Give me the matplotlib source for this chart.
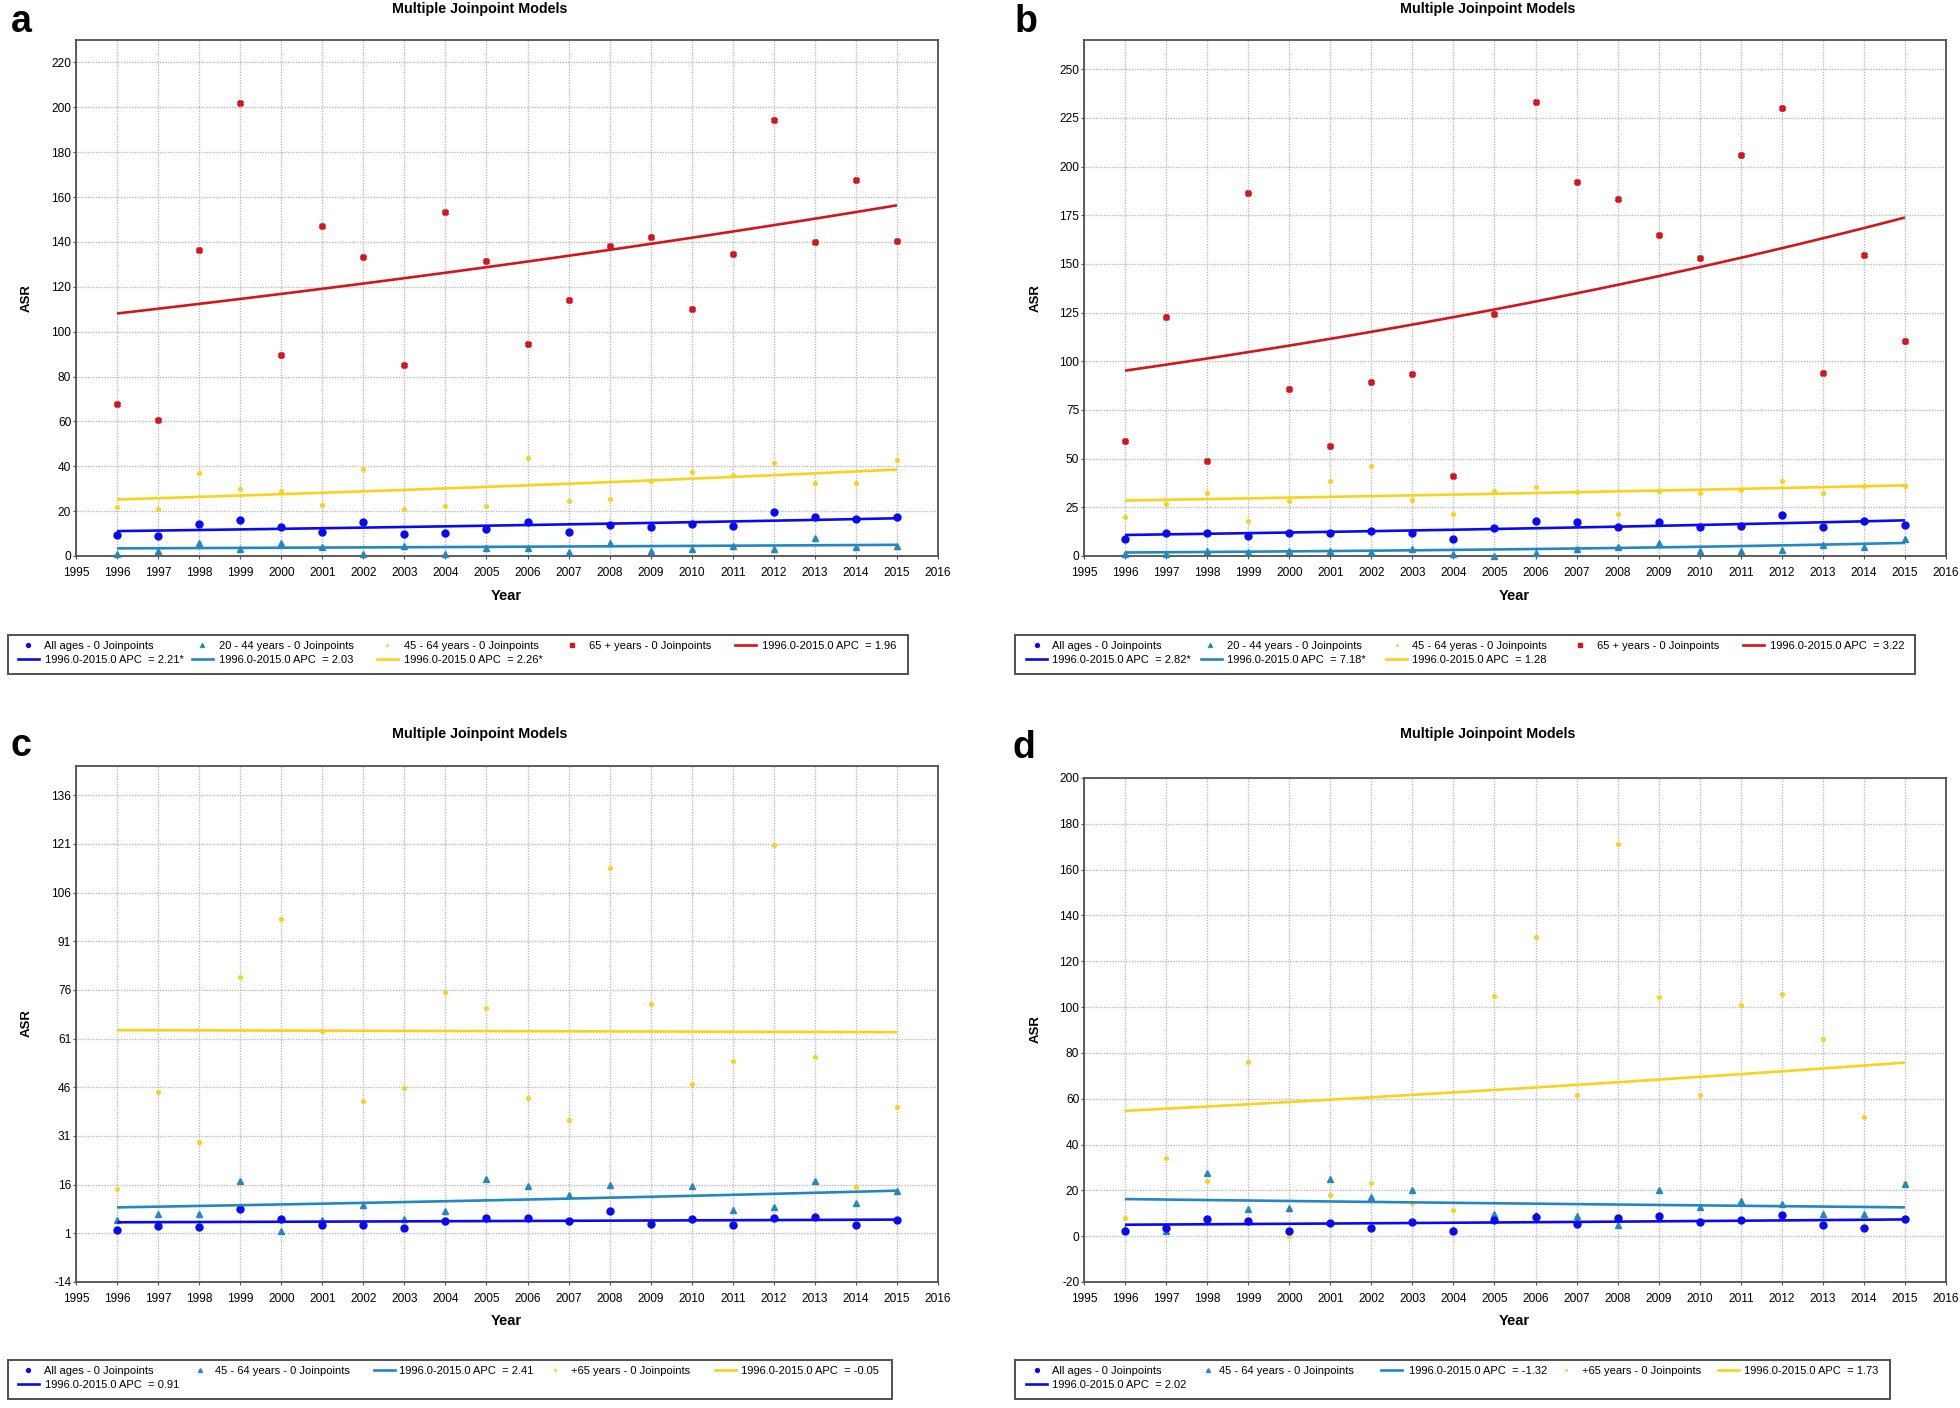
import matplotlib
matplotlib.use('Agg')
import matplotlib.pyplot as plt
from matplotlib.lines import Line2D
from matplotlib.patches import Rectangle
from matplotlib import font_manager
import numpy as np

# ---------------- DATA ----------------
years = list(range(1996, 2016))

# Panel a
a_all   = [9.5, 8.7, 14.3, 16.2, 12.8, 10.7, 15.3, 10.0, 10.4, 12.1, 15.0, 10.7, 14.0, 13.0, 14.3, 13.3, 19.8, 17.2, 16.4, 17.2]
a_20_44 = [1.0, 2.2, 6.0, 3.2, 5.6, 3.9, 1.0, 4.6, 1.0, 3.6, 3.6, 1.7, 5.6, 2.4, 3.2, 4.4, 3.2, 8.0, 3.9, 4.3]
a_45_64 = [21.7, 20.8, 37.0, 29.7, 28.8, 22.7, 38.7, 21.1, 22.2, 22.3, 43.5, 24.6, 25.2, 33.6, 37.5, 36.3, 41.6, 32.6, 32.6, 42.6]
a_65    = [67.7, 60.4, 136.4, 201.7, 89.4, 147.0, 133.2, 85.3, 153.5, 131.5, 94.5, 114.1, 138.3, 142.4, 110.0, 134.5, 194.2, 139.8, 167.5, 140.5]
a_fit_start = [11.1, 3.4, 25.2, 108.1]      # fitted value in 1996: all, 20-44, 45-64, 65+
a_apc       = [2.21, 2.03, 2.26, 1.96]

# Panel b
b_all   = [8.9, 11.6, 12.0, 10.4, 11.6, 12.0, 12.6, 12.0, 8.7, 14.4, 17.9, 17.5, 14.9, 17.5, 15.1, 15.3, 21.0, 15.1, 17.9, 15.7]
b_20_44 = [1.2, 1.2, 2.8, 2.0, 2.4, 2.8, 2.0, 3.5, 1.2, 0.2, 1.6, 3.5, 4.5, 6.7, 2.8, 2.8, 3.1, 5.9, 4.5, 8.5]
b_45_64 = [19.9, 26.6, 32.5, 18.1, 28.5, 38.6, 46.0, 28.9, 21.4, 33.4, 35.6, 32.7, 21.4, 33.4, 32.5, 34.0, 38.7, 32.5, 36.0, 35.8]
b_65    = [59.0, 122.9, 48.6, 186.5, 85.8, 56.3, 89.5, 93.6, 40.9, 124.5, 233.0, 192.2, 183.3, 165.0, 153.2, 205.7, 230.1, 94.2, 154.4, 110.5]
b_fit_start = [10.8, 1.8, 28.5, 95.2]
b_apc       = [2.82, 7.18, 1.28, 3.22]

# Panel c
c_all   = [1.9, 3.3, 3.0, 8.4, 5.3, 3.6, 3.6, 2.7, 4.8, 5.8, 5.7, 4.8, 7.8, 3.8, 5.3, 3.6, 5.8, 5.9, 3.7, 5.0]
c_45_64 = [5.0, 7.1, 7.0, 17.2, 1.6, 5.1, 9.8, 5.4, 7.8, 17.6, 15.5, 12.8, 16.0, 4.5, 15.6, 8.1, 9.1, 17.2, 10.2, 13.9]
c_65    = [14.8, 44.4, 29.2, 79.9, 97.8, 63.2, 41.7, 45.9, 75.5, 70.3, 42.8, 35.9, 113.6, 71.7, 46.9, 54.1, 120.8, 55.3, 15.3, 40.0]
c_fit_start = [4.4, 9.0, 63.6]              # all, 45-64, +65
c_apc       = [0.91, 2.41, -0.05]

# Panel d
d_all   = [2.2, 3.4, 7.4, 6.6, 2.2, 5.6, 3.4, 6.2, 2.2, 7.0, 8.2, 5.4, 8.0, 9.0, 6.2, 7.0, 9.2, 5.0, 3.6, 7.4]
d_45_64 = [3.2, 2.4, 27.7, 12.0, 12.4, 25.1, 17.2, 20.1, 2.6, 9.6, 9.4, 8.8, 5.0, 20.1, 12.8, 15.4, 14.0, 9.6, 9.6, 22.7]
d_65    = [7.8, 34.1, 23.9, 76.2, 0.0, 18.0, 23.1, 14.4, 11.6, 104.7, 130.8, 61.6, 171.1, 104.3, 61.8, 101.1, 105.7, 86.0, 51.9, 23.3]
d_fit_start = [5.0, 16.2, 54.7]
d_apc       = [2.02, -1.32, 1.73]

# Axis ticks
a_yticks = list(range(0, 221, 20))
b_yticks = list(range(0, 251, 25))
c_yticks = list(range(-14, 137, 15))
d_yticks = list(range(-20, 201, 20))
xticks = list(range(1995, 2017))

# Legend texts
a_legend = ["All ages - 0 Joinpoints", "20 - 44 years - 0 Joinpoints", "45 - 64 years - 0 Joinpoints",
            "65 + years - 0 Joinpoints", "1996.0-2015.0 APC  = 1.96",
            "1996.0-2015.0 APC  = 2.21*", "1996.0-2015.0 APC  = 2.03", "1996.0-2015.0 APC  = 2.26*"]
b_legend = ["All ages - 0 Joinpoints", "20 - 44 years - 0 Joinpoints", "45 - 64 yeras - 0 Joinpoints",
            "65 + years - 0 Joinpoints", "1996.0-2015.0 APC  = 3.22",
            "1996.0-2015.0 APC  = 2.82*", "1996.0-2015.0 APC  = 7.18*", "1996.0-2015.0 APC  = 1.28"]
c_legend = ["All ages - 0 Joinpoints", "45 - 64 years - 0 Joinpoints", "1996.0-2015.0 APC  = 2.41",
            "+65 years - 0 Joinpoints", "1996.0-2015.0 APC  = -0.05", "1996.0-2015.0 APC  = 0.91"]
d_legend = ["All ages - 0 Joinpoints", "45 - 64 years - 0 Joinpoints", "1996.0-2015.0 APC  = -1.32",
            "+65 years - 0 Joinpoints", "1996.0-2015.0 APC  = 1.73", "1996.0-2015.0 APC  = 2.02"]

# ---------------- STYLE ----------------
def has_font(name):
    try:
        font_manager.findfont(font_manager.FontProperties(family=name), fallback_to_default=False)
        return True
    except Exception:
        return False

NARROW = 'Liberation Sans Narrow' if has_font('Liberation Sans Narrow') else 'Liberation Sans'
SANS = 'Liberation Sans'

C_BLUE = '#0A0AF2'
C_TEAL = '#2388BF'
C_YEL = '#F8D31A'
C_RED = '#D2161C'
FRAME = '#505050'

W, H = 1960, 1408
fig = plt.figure(figsize=(W / 100, H / 100), dpi=100)
fig.patch.set_facecolor('white')

STY = {
    'all':  dict(marker='o', ms=5.0, color=C_BLUE),
    'teal': dict(marker='^', ms=4.5, color=C_TEAL),
    'yel':  dict(marker='o', ms=2.6, color=C_YEL),
    'red':  dict(marker='X', ms=4.0, color=C_RED),
}


def add_axes_px(l, r, t, b):
    return fig.add_axes([l / W, 1 - b / H, (r - l) / W, (b - t) / H])


def fx(x):
    return x / W


def fy(y):
    return 1 - y / H


def draw_panel(box, ylim, yticks, series, letter, title_xy, letter_xy, ylab_xy, xlab_xy):
    ax = add_axes_px(*box)
    ax.set_xlim(1995, 2016)
    ax.set_ylim(*ylim)
    ax.set_xticks(xticks)
    ax.set_xticklabels([str(v) for v in xticks], fontsize=8.6, family=NARROW)
    ax.set_yticks(yticks)
    ax.set_yticklabels([str(v) for v in yticks], fontsize=8.6, family=NARROW)
    ax.tick_params(axis='x', length=2, pad=6, color=FRAME)
    ax.tick_params(axis='y', length=2, pad=1.5, color=FRAME)
    ax.grid(True, color='#BBBBBB', linestyle=(0, (1, 1)), linewidth=1.0)
    ax.set_axisbelow(True)
    for s in ax.spines.values():
        s.set_color(FRAME)
        s.set_linewidth(1.3)
    yrs = np.array(years)
    xfine = np.linspace(1996, 2015, 120)
    for vals, key, start, apc in series:
        st = STY[key]
        ax.plot(yrs, vals, linestyle='none', marker=st['marker'], ms=st['ms'],
                color=st['color'], mec=st['color'], zorder=3, clip_on=False)
        if start is not None:
            fit = start * (1 + apc / 100.0) ** (xfine - 1996)
            ax.plot(xfine, fit, color=st['color'], lw=1.9, zorder=4, solid_capstyle='butt')
    fig.text(fx(title_xy[0]), fy(title_xy[1]), 'Multiple Joinpoint Models', ha='center', va='center',
             fontsize=10.3, fontweight='bold', family=SANS)
    fig.text(fx(letter_xy[0]), fy(letter_xy[1]), letter, ha='left', va='center',
             fontsize=27, fontweight='bold', family=SANS)
    fig.text(fx(ylab_xy[0]), fy(ylab_xy[1]), 'ASR', ha='center', va='center', rotation=90,
             fontsize=9.5, fontweight='bold', family=SANS)
    fig.text(fx(xlab_xy[0]), fy(xlab_xy[1]), 'Year', ha='center', va='center',
             fontsize=10.5, fontweight='bold', family=SANS)
    return ax


def legend_box(l, r, t, b, items):
    fig.patches.append(Rectangle((fx(l), fy(b)), (r - l) / W, (b - t) / H, transform=fig.transFigure,
                                 facecolor='white', edgecolor=FRAME, linewidth=1.4))
    for kind, color, x0, ycen, txt_x, label, mk in items:
        if kind == 'm':
            fig.lines.append(Line2D([fx(x0)], [fy(ycen - 1)], transform=fig.transFigure, linestyle='none',
                                    marker=mk, ms=2.8 if mk != '.' else 2.2, color=color, mec=color))
        else:
            fig.lines.append(Line2D([fx(x0), fx(x0 + 21)], [fy(ycen - 1), fy(ycen - 1)],
                                    transform=fig.transFigure, color=color, lw=1.9))
        fig.text(fx(txt_x), fy(ycen), label, ha='left', va='center', fontsize=8.0, family=NARROW)


# ---------------- PANELS ----------------
draw_panel((76, 938, 40, 556), (0, 230), a_yticks,
           [(a_20_44, 'teal', a_fit_start[1], a_apc[1]),
            (a_45_64, 'yel', a_fit_start[2], a_apc[2]),
            (a_65, 'red', a_fit_start[3], a_apc[3]),
            (a_all, 'all', a_fit_start[0], a_apc[0])],
           'a', (480, 9), (11, 22), (27, 298), (506, 596))

draw_panel((1084, 1946, 40, 556), (0, 265), b_yticks,
           [(b_20_44, 'teal', b_fit_start[1], b_apc[1]),
            (b_45_64, 'yel', b_fit_start[2], b_apc[2]),
            (b_65, 'red', b_fit_start[3], b_apc[3]),
            (b_all, 'all', b_fit_start[0], b_apc[0])],
           'b', (1488, 9), (1015, 22), (1036, 298), (1514, 596))

draw_panel((76, 938, 766, 1282), (-14, 145), c_yticks,
           [(c_65, 'yel', c_fit_start[2], c_apc[2]),
            (c_45_64, 'teal', c_fit_start[1], c_apc[1]),
            (c_all, 'all', c_fit_start[0], c_apc[0])],
           'c', (480, 734), (11, 746), (27, 1023), (506, 1321))

draw_panel((1084, 1946, 778, 1282), (-20, 200), d_yticks,
           [(d_65, 'yel', d_fit_start[2], d_apc[2]),
            (d_45_64, 'teal', d_fit_start[1], d_apc[1]),
            (d_all, 'all', d_fit_start[0], d_apc[0])],
           'd', (1488, 734), (1012, 748), (1036, 1029), (1514, 1321))

# ---------------- LEGENDS ----------------
r1, r2 = 646, 660
legend_box(8, 908, 635, 674, [
    ('m', C_BLUE, 28, r1, 44, a_legend[0], 'o'),
    ('m', C_TEAL, 202, r1, 219, a_legend[1], '^'),
    ('m', C_YEL, 387, r1, 404, a_legend[2], '.'),
    ('m', C_RED, 572, r1, 589, a_legend[3], 's'),
    ('l', C_RED, 735, r1, 762, a_legend[4], None),
    ('l', C_BLUE, 18, r2, 45, a_legend[5], None),
    ('l', C_TEAL, 192, r2, 219, a_legend[6], None),
    ('l', C_YEL, 377, r2, 404, a_legend[7], None),
])
legend_box(1015, 1915, 635, 674, [
    ('m', C_BLUE, 1037, r1, 1052, b_legend[0], 'o'),
    ('m', C_TEAL, 1210, r1, 1227, b_legend[1], '^'),
    ('m', C_YEL, 1397, r1, 1412, b_legend[2], '.'),
    ('m', C_RED, 1580, r1, 1597, b_legend[3], 's'),
    ('l', C_RED, 1743, r1, 1770, b_legend[4], None),
    ('l', C_BLUE, 1026, r2, 1052, b_legend[5], None),
    ('l', C_TEAL, 1201, r2, 1227, b_legend[6], None),
    ('l', C_YEL, 1386, r2, 1412, b_legend[7], None),
])
q1, q2 = 1371, 1385
legend_box(8, 892, 1360, 1399, [
    ('m', C_BLUE, 28, q1, 44, c_legend[0], 'o'),
    ('m', C_TEAL, 200, q1, 215, c_legend[1], '^'),
    ('l', C_TEAL, 374, q1, 399, c_legend[2], None),
    ('m', C_YEL, 555, q1, 571, c_legend[3], '.'),
    ('l', C_YEL, 715, q1, 741, c_legend[4], None),
    ('l', C_BLUE, 18, q2, 45, c_legend[5], None),
])
legend_box(1015, 1890, 1360, 1399, [
    ('m', C_BLUE, 1037, q1, 1052, d_legend[0], 'o'),
    ('m', C_TEAL, 1208, q1, 1219, d_legend[1], '^'),
    ('l', C_TEAL, 1381, q1, 1409, d_legend[2], None),
    ('m', C_YEL, 1566, q1, 1582, d_legend[3], '.'),
    ('l', C_YEL, 1718, q1, 1744, d_legend[4], None),
    ('l', C_BLUE, 1026, q2, 1052, d_legend[5], None),
])

fig.savefig('out.png', dpi=100, facecolor='white')
